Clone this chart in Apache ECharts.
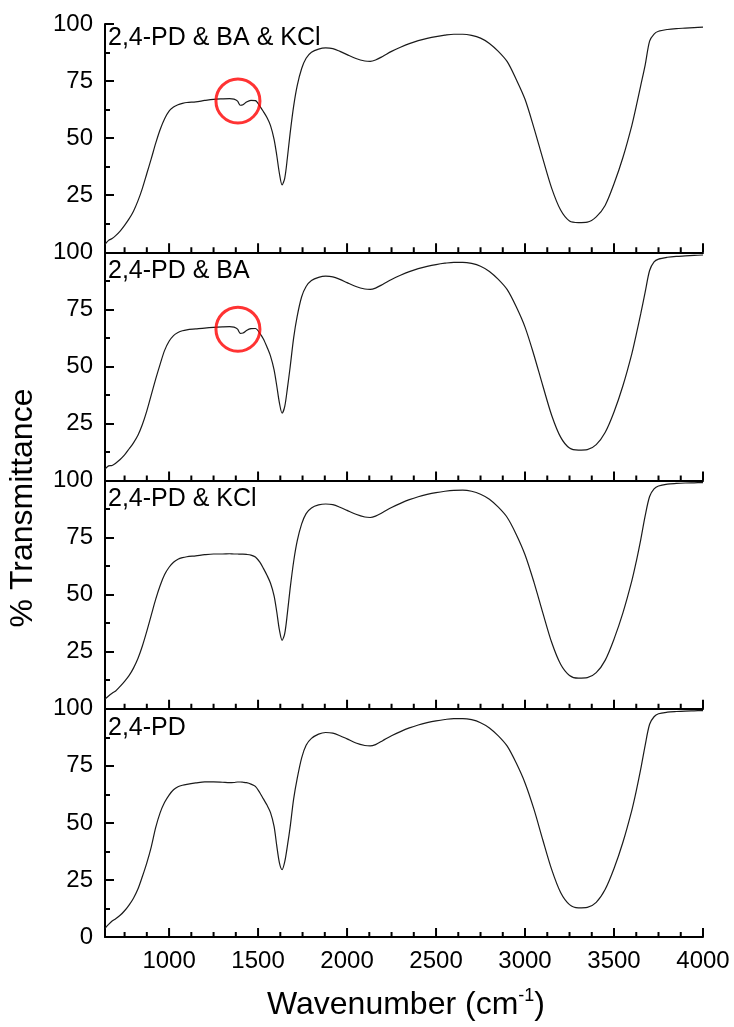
<!DOCTYPE html>
<html>
<head>
<meta charset="utf-8">
<script src="https://cdn.jsdelivr.net/npm/echarts@6/dist/echarts.min.js"></script>
<style>
html,body{margin:0;padding:0;background:#fff;}
#chart{width:734px;height:1027px;}
</style>
</head>
<body>
<div id="chart"></div>
<script>
// ---- data ----
const wavenumber = [
  640, 660, 680, 700, 725, 750, 775, 800, 825, 850,
  875, 900, 925, 950, 975, 1000, 1025, 1050, 1075, 1100,
  1150, 1200, 1250, 1300, 1340, 1365, 1385, 1400, 1415, 1435,
  1460, 1485, 1510, 1530, 1550, 1570, 1590, 1605, 1620, 1635,
  1650, 1665, 1680, 1700, 1720, 1745, 1770, 1800, 1840, 1880,
  1920, 1960, 2000, 2050, 2100, 2130, 2160, 2200, 2250, 2300,
  2350, 2400, 2450, 2500, 2550, 2600, 2650, 2700, 2750, 2800,
  2850, 2900, 2950, 3000, 3050, 3100, 3150, 3200, 3250, 3300,
  3350, 3400, 3450, 3500, 3550, 3600, 3625, 3650, 3675, 3700,
  3725, 3750, 3800, 3850, 3900, 3950, 4000
];
const pdBaKcl = [
  3.5, 5.2, 6.0, 7.3, 9.3, 11.8, 14.6, 18.0, 22.5, 28.0,
  34.5, 41.0, 47.8, 53.8, 58.5, 61.8, 63.6, 64.6, 65.2, 65.6,
  65.9, 66.5, 67.0, 67.2, 67.3, 67.1, 66.2, 64.4, 64.6, 65.8,
  66.5, 66.4, 64.0, 61.6, 59.0, 55.5, 49.5, 42.5, 34.5, 29.5,
  32.5, 41.5, 52.0, 64.0, 73.0, 80.5, 85.0, 87.6, 89.0, 89.5,
  89.2, 88.0, 86.6, 84.9, 83.8, 83.6, 84.2, 85.8, 88.0, 89.8,
  91.4, 92.7, 93.7, 94.5, 95.1, 95.5, 95.5, 95.0, 93.8, 91.5,
  88.0, 83.5, 75.8, 67.0, 54.5, 41.0, 28.0, 18.5, 13.7, 13.0,
  13.2, 15.5, 20.5, 30.0, 41.5, 55.5, 64.0, 73.0, 82.0, 92.5,
  95.6, 96.8, 97.6, 98.0, 98.2, 98.4, 98.6
];
const pdBa = [
  5.0, 6.4, 6.6, 7.6, 9.2, 11.2, 13.8, 16.5, 19.8, 24.5,
  30.5, 37.5, 44.5, 51.0, 57.0, 61.0, 63.5, 64.8, 65.6, 66.0,
  66.4, 66.8, 67.1, 67.3, 67.4, 67.2, 66.3, 64.5, 64.6, 65.7,
  66.5, 66.6, 64.5, 62.0, 58.5, 54.5, 48.5, 41.5, 34.0, 29.5,
  32.5, 40.5, 49.5, 62.5, 72.0, 80.5, 85.0, 87.6, 89.0, 89.5,
  89.2, 88.1, 86.7, 85.0, 83.9, 83.7, 84.3, 85.9, 88.1, 89.9,
  91.5, 92.8, 93.8, 94.6, 95.2, 95.6, 95.6, 95.1, 93.9, 91.6,
  88.1, 83.6, 76.2, 67.2, 55.0, 41.5, 28.5, 19.0, 14.2, 13.3,
  13.5, 15.7, 21.0, 30.0, 41.5, 55.5, 64.0, 73.0, 82.5, 92.0,
  95.8, 97.0, 97.8, 98.2, 98.4, 98.6, 98.8
];
const pdKcl = [
  4.2, 5.6, 6.8, 7.8, 9.8, 12.0, 14.5, 17.8, 22.0, 27.5,
  34.0, 41.0, 48.0, 54.0, 58.8, 62.0, 64.2, 65.5, 66.2, 66.6,
  67.0, 67.5, 67.8, 67.8, 67.9, 67.8, 67.8, 67.7, 67.7, 67.6,
  67.3, 66.5, 64.2, 61.5, 58.5, 55.0, 49.5, 42.5, 34.5, 30.0,
  33.0, 42.0, 52.5, 64.5, 73.5, 81.0, 85.5, 88.0, 89.3, 89.7,
  89.4, 88.3, 86.9, 85.2, 84.0, 83.8, 84.4, 86.0, 88.2, 90.0,
  91.6, 92.9, 93.9, 94.7, 95.3, 95.7, 95.8, 95.3, 94.0, 91.8,
  88.3, 83.8, 76.5, 67.5, 55.5, 42.0, 29.0, 19.5, 14.6, 13.4,
  13.6, 15.8, 21.2, 30.5, 42.0, 56.0, 64.5, 74.0, 84.5, 93.0,
  96.3, 97.6, 98.4, 98.7, 98.9, 99.0, 99.1
];
const pd = [
  3.8, 5.5, 7.0, 8.0, 9.5, 11.5, 14.0, 17.0, 21.0, 26.5,
  32.5, 39.5, 48.0, 54.5, 59.0, 62.2, 64.5, 65.8, 66.5, 66.9,
  67.5, 68.0, 68.0, 67.8, 67.6, 67.7, 67.9, 67.9, 67.8, 67.6,
  67.0, 66.0, 63.2, 60.5, 57.8, 54.5, 48.5, 40.0, 32.5, 29.5,
  33.0, 40.0, 48.0, 60.5, 69.5, 78.5, 84.0, 87.0, 88.9, 89.6,
  89.3, 88.2, 86.8, 85.0, 83.9, 83.7, 84.3, 86.0, 88.2, 90.0,
  91.6, 92.9, 93.9, 94.7, 95.3, 95.7, 95.7, 95.2, 93.9, 91.6,
  88.1, 83.6, 76.3, 67.5, 56.0, 42.5, 29.5, 19.5, 14.2, 12.8,
  13.0, 15.2, 20.8, 30.0, 41.5, 55.5, 64.0, 73.5, 84.0, 93.2,
  96.5, 97.8, 98.5, 98.8, 99.0, 99.1, 99.2
];
const panelNames = ['2,4-PD & BA & KCl', '2,4-PD & BA', '2,4-PD & KCl', '2,4-PD'];
const panelSeries = [pdBaKcl, pdBa, pdKcl, pd];
const circledPanels = [0, 1];
const circleMark = [1387, 66.3];
const xMajorTicks = [1000, 1500, 2000, 2500, 3000, 3500, 4000];
const xMinorTicks = [750, 875, 1125, 1250, 1375, 1625, 1750, 1875, 2125, 2250, 2375,
  2625, 2750, 2875, 3125, 3250, 3375, 3625, 3750, 3875];
const xRange = [640, 4000];
const yRange = [0, 100];
const yStep = 25;

// ---- layout ----
const FONT = '"Liberation Sans", Arial, sans-serif';
const L = 105, W = 598, TOP = 24, H = 228.25;
const TICK_FS = 24, LABEL_FS = 25, TITLE_FS = 32;

function tickSeries(i, values, len) {
  return {
    type: 'custom', xAxisIndex: i, yAxisIndex: i, silent: true, clip: false, z: 3,
    data: values.map(v => [v, yRange[0]]),
    encode: { x: 0, y: 1 },
    renderItem: (params, api) => {
      const p = api.coord([api.value(0), api.value(1)]);
      return { type: 'line', shape: { x1: p[0], y1: p[1], x2: p[0], y2: p[1] - len },
               style: { stroke: '#000', lineWidth: 2 } };
    }
  };
}

const grids = [], xAxes = [], yAxes = [], series = [], graphics = [];
for (let i = 0; i < 4; i++) {
  grids.push({ left: L, width: W, top: TOP + i * H, height: H });
  xAxes.push({
    type: 'value', gridIndex: i, position: 'bottom', min: xRange[0], max: xRange[1],
    axisLine: { show: true, lineStyle: { color: '#000', width: 2 } },
    axisTick: { show: false },
    axisLabel: { show: i === 3, customValues: xMajorTicks, fontSize: TICK_FS, color: '#000', margin: 12,
                 fontFamily: FONT, formatter: v => String(v) },
    splitLine: { show: false }
  });
  yAxes.push({
    type: 'value', gridIndex: i, min: yRange[0], max: yRange[1], interval: yStep,
    axisLine: { show: true, lineStyle: { color: '#000', width: 2 } },
    axisTick: { show: true, inside: true, length: 9, lineStyle: { color: '#000', width: 2 } },
    minorTick: { show: true, splitNumber: 2, length: 5, lineStyle: { color: '#000', width: 2 } },
    axisLabel: {
      fontSize: TICK_FS, color: '#000', margin: 12, fontFamily: FONT,
      formatter: (v) => (i < 3 && v === 0) ? '' : String(v)
    },
    splitLine: { show: false }, minorSplitLine: { show: false }
  });
  series.push({
    type: 'line', xAxisIndex: i, yAxisIndex: i, name: panelNames[i],
    data: wavenumber.map((w, k) => [w, panelSeries[i][k]]),
    showSymbol: false, smooth: 0.3, silent: true,
    lineStyle: { color: '#1a1a1a', width: 1.2 }
  });
  series.push(tickSeries(i, xMajorTicks, 9));
  series.push(tickSeries(i, xMinorTicks, 5));
  if (circledPanels.includes(i)) {
    series.push({
      type: 'scatter', xAxisIndex: i, yAxisIndex: i, silent: true,
      data: [circleMark], symbol: 'circle', symbolSize: 44, z: 5,
      itemStyle: { color: 'rgba(0,0,0,0)', borderColor: '#ff0000', borderWidth: 3 }
    });
  }
}
const labelY = [38.5, 271.5, 499.5, 728];
panelNames.forEach((n, i) => {
  graphics.push({ type: 'text', x: 108, y: labelY[i], style: { text: n, font: LABEL_FS + 'px ' + FONT, fill: '#000', verticalAlign: 'middle', align: 'left' } });
});
graphics.push({
  type: 'text', x: 23, y: 508, rotation: Math.PI / 2,
  style: { text: '% Transmittance', font: TITLE_FS + 'px ' + FONT, fill: '#000', align: 'center', verticalAlign: 'middle' }
});
graphics.push({
  type: 'text', x: 406, y: 1005,
  style: {
    text: '{n|Wavenumber (cm}{s|-1}{n|)}', align: 'center', verticalAlign: 'middle',
    rich: {
      n: { fontSize: TITLE_FS, fontFamily: FONT, fill: '#000', lineHeight: 36 },
      s: { fontSize: 18, fontFamily: FONT, fill: '#000', lineHeight: 20, verticalAlign: 'top' }
    }
  }
});

const chart = echarts.init(document.getElementById('chart'), null, { renderer: 'canvas' });
chart.setOption({
  animation: false,
  backgroundColor: '#fff',
  textStyle: { fontFamily: FONT },
  grid: grids, xAxis: xAxes, yAxis: yAxes, series: series, graphic: graphics
});
</script>
</body>
</html>
